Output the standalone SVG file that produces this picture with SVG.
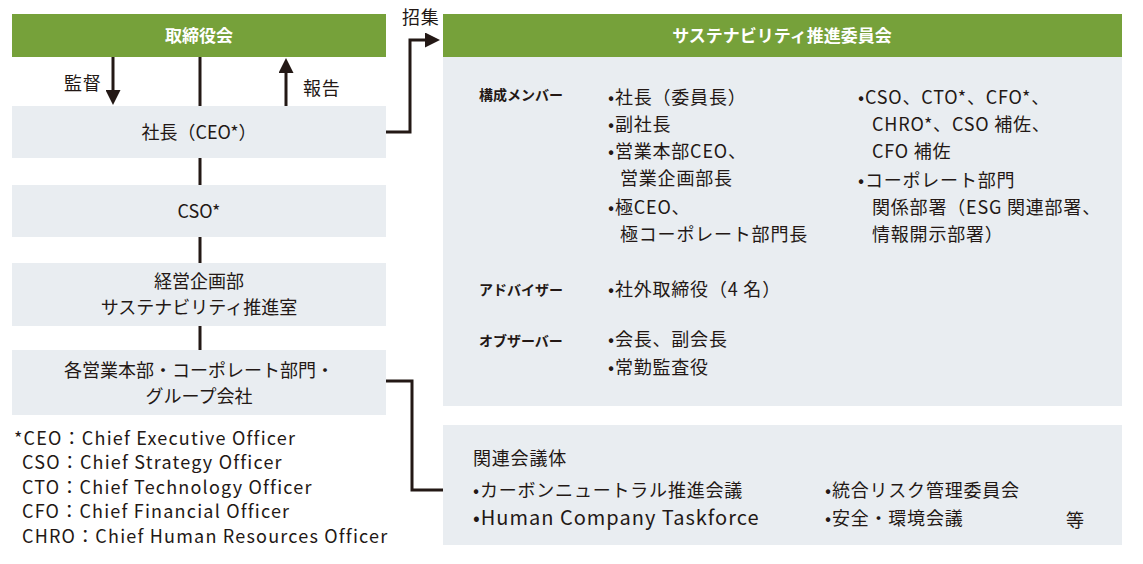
<svg xmlns="http://www.w3.org/2000/svg" width="1143" height="564" viewBox="0 0 1143 564">
<style>
text{font-family:"Noto Sans CJK JP","Noto Sans",sans-serif;fill:#231815;font-size:18px}
.h{fill:#fff;font-weight:bold;font-size:17px}
.g{fill:#76a13a}
.b{fill:#e9edf1}
.l{font-weight:bold;font-size:14px}
.n{font-size:18px;letter-spacing:0.8px}
.r{font-size:20px;letter-spacing:1px}
.ln{stroke:#231815;stroke-width:3;fill:none}
</style>
<defs><marker id="a" markerWidth="5" markerHeight="5" refX="3" refY="2.5" orient="auto"><path d="M0,0L5,2.5L0,5z" fill="#231815"/></marker></defs>
<rect width="1143" height="564" fill="#fff"/>
<g id="board"><rect class="g" x="12" y="14" width="374" height="43"/><text class="h" x="199" y="42" text-anchor="middle">取締役会</text></g>
<g id="committee"><rect class="g" x="443" y="14" width="679" height="43"/><text class="h" x="782" y="42" text-anchor="middle">サステナビリティ推進委員会</text>
<rect class="b" x="443" y="57" width="679" height="349"/>
<text class="l" x="479" y="100">構成メンバー</text>
<text class="n"><tspan x="608" y="104">•社長（委員長）</tspan><tspan x="608" y="131">•副社長</tspan><tspan x="608" y="158">•営業本部CEO、</tspan><tspan x="620" y="185">営業企画部長</tspan><tspan x="608" y="214">•極CEO、</tspan><tspan x="620" y="241">極コーポレート部門長</tspan></text>
<text class="n"><tspan x="858" y="104">•CSO、CTO*、CFO*、</tspan><tspan x="872" y="131">CHRO*、CSO 補佐、</tspan><tspan x="872" y="158">CFO 補佐</tspan><tspan x="858" y="187">•コーポレート部門</tspan><tspan x="872" y="214">関係部署（ESG 関連部署、</tspan><tspan x="872" y="241">情報開示部署）</tspan></text>
<text class="l" x="479" y="295">アドバイザー</text><text class="n" x="608" y="296">•社外取締役（4 名）</text>
<text class="l" x="479" y="346">オブザーバー</text>
<text class="n"><tspan x="608" y="346">•会長、副会長</tspan><tspan x="608" y="374">•常勤監査役</tspan></text></g>
<g id="ceo"><rect class="b" x="12" y="106" width="374" height="52"/><text x="199" y="139" text-anchor="middle">社長（CEO*）</text></g>
<g id="cso"><rect class="b" x="12" y="185" width="374" height="52"/><text x="199" y="218" text-anchor="middle">CSO*</text></g>
<g id="plan"><rect class="b" x="12" y="263" width="374" height="63"/><text x="199" y="288" text-anchor="middle">経営企画部</text><text x="199" y="314" text-anchor="middle">サステナビリティ推進室</text></g>
<g id="units"><rect class="b" x="12" y="350" width="374" height="65"/><text x="199" y="377" text-anchor="middle">各営業本部・コーポレート部門・</text><text x="199" y="403" text-anchor="middle">グループ会社</text></g>
<g id="related"><rect class="b" x="443" y="425" width="679" height="120"/>
<text class="n" x="473" y="465">関連会議体</text>
<text class="n" x="473" y="497">•カーボンニュートラル推進会議</text><text class="r" x="473" y="525">•Human Company Taskforce</text>
<text class="n" x="825" y="497">•統合リスク管理委員会</text><text class="n" x="825" y="525">•安全・環境会議</text><text class="n" x="1066" y="527">等</text></g>
<g id="notes"><text class="n" style="letter-spacing:1.2px"><tspan x="14" y="445">*CEO：Chief Executive Officer</tspan><tspan x="22" y="469">CSO：Chief Strategy Officer</tspan><tspan x="22" y="494">CTO：Chief Technology Officer</tspan><tspan x="22" y="518">CFO：Chief Financial Officer</tspan><tspan x="22" y="543">CHRO：Chief Human Resources Officer</tspan></text></g>
<g id="connectors">
<path class="ln" d="M113,57V99" marker-end="url(#a)"/>
<path class="ln" d="M286,106V64" marker-end="url(#a)"/>
<path class="ln" d="M200,57V106M200,158V185M200,237V263M200,326V350"/>
<path class="ln" d="M386,132H410V40H434" marker-end="url(#a)"/>
<path class="ln" d="M386,381H412V490H443"/>
<text class="n" x="64" y="90">監督</text><text class="n" x="303" y="95">報告</text><text class="n" x="402" y="24">招集</text>
</g>
</svg>
